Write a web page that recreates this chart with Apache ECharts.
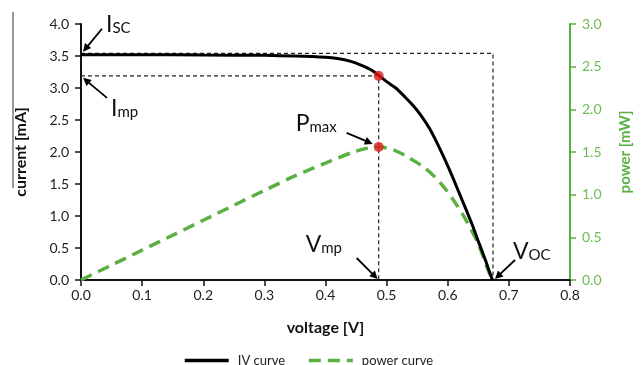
<!DOCTYPE html>
<html><head><meta charset="utf-8">
<script src="https://cdn.jsdelivr.net/npm/echarts@6/dist/echarts.min.js"></script>
<style>html,body{margin:0;padding:0;background:#fff}#c{width:641px;height:365px}</style>
</head><body><div id="c"></div>
<script>
// IV curve (voltage [V] -> current [mA])
const voltageIV = [0, 0.1, 0.2, 0.3, 0.35, 0.4, 0.42, 0.44, 0.46, 0.475, 0.488, 0.5, 0.515, 0.53, 0.543, 0.557, 0.57, 0.581, 0.592, 0.602, 0.61, 0.62, 0.63, 0.641, 0.651, 0.662, 0.673];
const currentIV = [3.52, 3.52, 3.515, 3.51, 3.50, 3.48, 3.46, 3.42, 3.35, 3.28, 3.19, 3.10, 3.00, 2.86, 2.73, 2.56, 2.37, 2.17, 1.95, 1.74, 1.56, 1.33, 1.10, 0.84, 0.58, 0.30, 0];
// power curve (voltage [V] -> power [mW])
const voltageP = [0, 0.05, 0.1, 0.15, 0.2, 0.25, 0.3, 0.35, 0.4, 0.45, 0.487, 0.513, 0.537, 0.565, 0.589, 0.61, 0.63, 0.65, 0.668, 0.673];
const powerP = [0, 0.175, 0.35, 0.525, 0.70, 0.875, 1.05, 1.22, 1.37, 1.51, 1.56, 1.52, 1.43, 1.30, 1.13, 0.93, 0.70, 0.42, 0.08, 0];
// key points
const Vmp = 0.487, Imp = 3.19, Pmax = 1.56, Voc = 0.674, IscBox = 3.54, Isc = 3.52;
const boxX = [0, Voc, Voc], boxY = [IscBox, IscBox, 0];
const mpX = [0, Vmp, Vmp], mpY = [Imp, Imp, 0];
const xTicks = [0, 0.8, 0.1], yLeftTicks = [0, 4, 0.5], yRightTicks = [0, 3, 0.5];

const FONT = 'Lato';
const GREEN = '#5bb043';
const GREEN_TXT = '#6dbb55';
const zip = (a, b) => a.map((v, i) => [v, b[i]]);

const chart = echarts.init(document.getElementById('c'), null, {renderer: 'canvas'});
const axisLbl = {fontFamily: FONT, fontSize: 14, color: '#222', formatter: v => v.toFixed(1)};
chart.setOption({
  animation: false,
  backgroundColor: '#fff',
  grid: {left: 81, right: 69, top: 24, bottom: 85},
  legend: {
    data: ['IV curve', 'power curve'], left: 183, top: 354, padding: 0, itemWidth: 44, itemHeight: 14, itemGap: 22,
    itemStyle: {opacity: 0}, lineStyle: {width: 3.5},
    textStyle: {fontFamily: FONT, fontSize: 13, color: '#222', padding: [0, 0, 0, 4]}
  },
  xAxis: {
    type: 'value', min: xTicks[0], max: xTicks[1], interval: xTicks[2],
    name: 'voltage [V]', nameLocation: 'middle', nameGap: 40,
    nameTextStyle: {fontFamily: FONT, fontSize: 16, fontWeight: 'bold', color: '#111'},
    axisLine: {lineStyle: {color: '#111', width: 2}},
    axisTick: {show: true, length: 6, lineStyle: {color: '#111', width: 1.5}},
    axisLabel: Object.assign({margin: 8}, axisLbl),
    splitLine: {show: false}
  },
  yAxis: [{
    type: 'value', min: yLeftTicks[0], max: yLeftTicks[1], interval: yLeftTicks[2],
    name: 'current [mA]', nameLocation: 'middle', nameGap: 52,
    nameTextStyle: {fontFamily: FONT, fontSize: 16, fontWeight: 'bold', color: '#111'},
    axisLine: {show: true, lineStyle: {color: '#111', width: 2}},
    axisTick: {show: true, length: 6, lineStyle: {color: '#111', width: 1.5}},
    axisLabel: Object.assign({margin: 12}, axisLbl),
    splitLine: {show: false}
  }, {
    type: 'value', position: 'right', min: yRightTicks[0], max: yRightTicks[1], interval: yRightTicks[2],
    name: 'power [mW]', nameLocation: 'middle', nameGap: 48,
    nameTextStyle: {fontFamily: FONT, fontSize: 15, fontWeight: 'bold', color: GREEN},
    axisLine: {show: true, lineStyle: {color: GREEN, width: 2}},
    axisTick: {show: true, length: 6, lineStyle: {color: GREEN, width: 1.5}},
    axisLabel: Object.assign({}, axisLbl, {margin: 12, color: GREEN_TXT}),
    splitLine: {show: false}
  }],
  series: [
    {name: 'box', type: 'line', data: zip(boxX, boxY), symbol: 'none', z: 1, silent: true,
     lineStyle: {color: '#222', width: 1.2, type: [4, 3]}},
    {name: 'mp', type: 'line', data: zip(mpX, mpY), symbol: 'none', z: 1, silent: true,
     lineStyle: {color: '#222', width: 1.2, type: [4, 3]}},
    {name: 'power curve', type: 'line', yAxisIndex: 1, data: zip(voltageP, powerP), symbol: 'none', smooth: 0.3, z: 3,
     lineStyle: {color: GREEN, width: 3.5, type: [12, 7]}, itemStyle: {color: GREEN}},
    {name: 'IV curve', type: 'line', data: zip(voltageIV, currentIV), symbol: 'none', smooth: 0.2, z: 4,
     lineStyle: {color: '#000', width: 3}, itemStyle: {color: '#000'}},
    {name: 'dotIV', type: 'scatter', data: [[Vmp, Imp]], symbolSize: 10, z: 6, itemStyle: {color: '#e01b1b'}},
    {name: 'dotP', type: 'scatter', yAxisIndex: 1, data: [[Vmp, Pmax]], symbolSize: 10, z: 6, itemStyle: {color: '#e01b1b'}}
  ]
});

function px(seriesIndex, pt) { return chart.convertToPixel({seriesIndex: seriesIndex}, pt); }
function arrow(tail, tip) {
  const dx = tip[0] - tail[0], dy = tip[1] - tail[1];
  const L = Math.hypot(dx, dy), ux = dx / L, uy = dy / L;
  const hl = 8, hw = 4;
  const bx = tip[0] - ux * hl, by = tip[1] - uy * hl;
  return [
    {type: 'line', shape: {x1: tail[0], y1: tail[1], x2: bx + ux, y2: by + uy}, style: {stroke: '#000', lineWidth: 1.8}, z: 10},
    {type: 'polygon', shape: {points: [tip, [bx - uy * hw, by + ux * hw], [bx + uy * hw, by - ux * hw]]}, style: {fill: '#000'}, z: 10}
  ];
}
function label(x, y, main, sub) {
  return {
    type: 'text', x: x, y: y, z: 10,
    style: {
      text: '{m|' + main + '}{s|' + sub + '}',
      rich: {
        m: {fontFamily: FONT, fontSize: 23, lineHeight: 28, verticalAlign: 'bottom', fill: '#111'},
        s: {fontFamily: FONT, fontSize: 15, lineHeight: 14, verticalAlign: 'bottom', fill: '#111'}
      }
    }
  };
}
const aIsc = px(3, [0, Isc]);
const aImp = px(3, [0, Imp]);
const aPm = px(2, [Vmp, Pmax]);
const aVmp = px(3, [Vmp, 0]);
const aVoc = px(3, [Voc, 0]);
let g = [];
g = g.concat(arrow([aIsc[0] + 21, aIsc[1] - 26], [aIsc[0] + 2, aIsc[1] - 3]));
g.push(label(aIsc[0] + 25, aIsc[1] - 47, 'I', 'SC'));
g = g.concat(arrow([aImp[0] + 26, aImp[1] + 22], [aImp[0] + 2, aImp[1] + 2]));
g.push(label(aImp[0] + 30, aImp[1] + 16, 'I', 'mp'));
g = g.concat(arrow([aPm[0] - 32, aPm[1] - 14], [aPm[0] - 6, aPm[1] - 3]));
g.push(label(aPm[0] - 83, aPm[1] - 40, 'P', 'max'));
g = g.concat(arrow([aVmp[0] - 22, aVmp[1] - 22], [aVmp[0] - 1, aVmp[1] - 1]));
g.push(label(aVmp[0] - 73, aVmp[1] - 52, 'V', 'mp'));
g = g.concat(arrow([aVoc[0] + 22, aVoc[1] - 20], [aVoc[0] + 2, aVoc[1] - 1]));
g.push(label(aVoc[0] + 20, aVoc[1] - 45, 'V', 'OC'));
g.push({type: 'line', shape: {x1: 13, y1: 12, x2: 13, y2: 188}, style: {stroke: '#333', lineWidth: 1}, z: 10});
chart.setOption({graphic: g});
</script>
</body></html>
